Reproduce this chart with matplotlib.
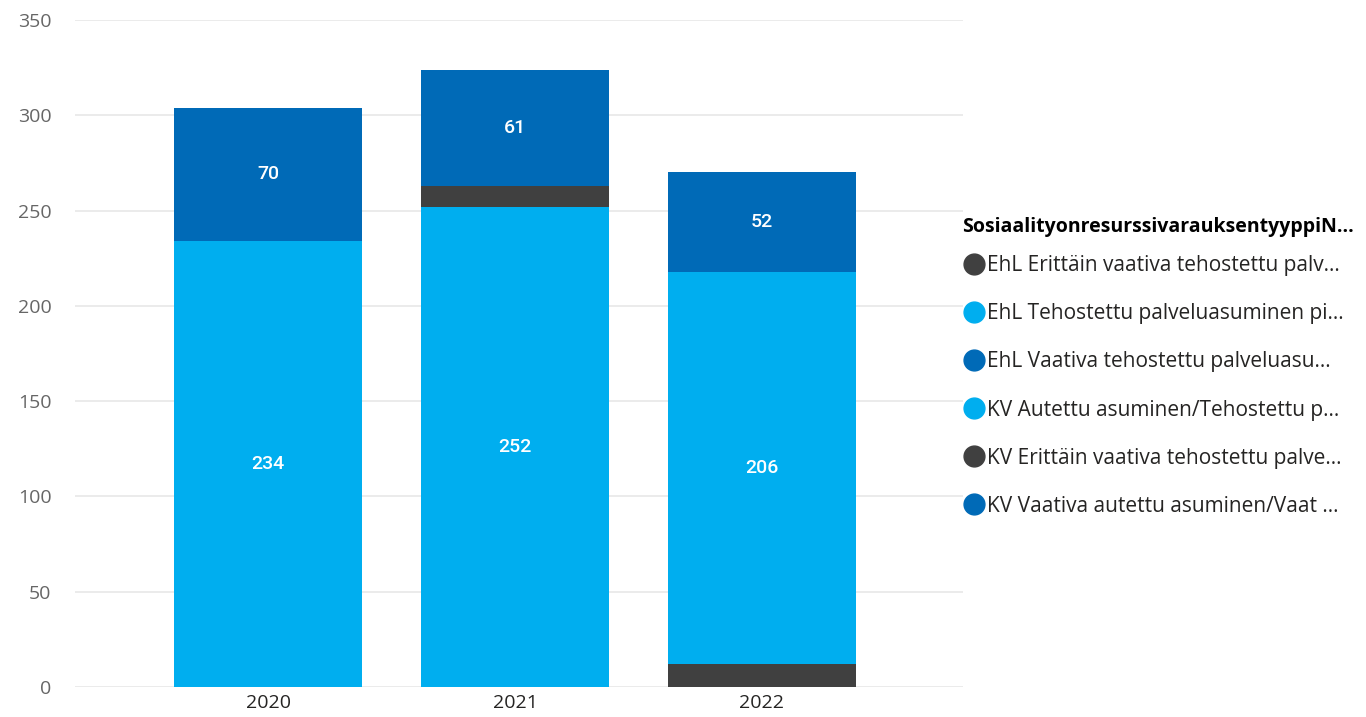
import matplotlib.pyplot as plt
from matplotlib.lines import Line2D
import numpy as np

years = ['2020', '2021', '2022']

# series in stacking order (bottom -> top), values per year
kv_erittain = [0, 0, 12]
ehl_tehostettu = [234, 252, 0]
kv_autettu = [0, 0, 206]
ehl_erittain = [0, 11, 0]
ehl_vaativa = [70, 61, 0]
kv_vaativa = [0, 0, 52]

legend_title = 'SosiaalityonresurssivarauksentyyppiN...'
legend_labels = [
    'EhL Erittäin vaativa tehostettu palv...',
    'EhL Tehostettu palveluasuminen pi...',
    'EhL Vaativa tehostettu palveluasu...',
    'KV Autettu asuminen/Tehostettu p...',
    'KV Erittäin vaativa tehostettu palve...',
    'KV Vaativa autettu asuminen/Vaat ...',
]

GREY = '#404040'
LIGHT = '#00AEEF'
DARK = '#006AB7'
legend_colors = [GREY, LIGHT, DARK, LIGHT, GREY, DARK]

plt.rcParams['font.family'] = ['Open Sans', 'DejaVu Sans']

fig = plt.figure(figsize=(13.66, 7.17), dpi=100)
ax = fig.add_axes([0.055, 0.042, 0.65, 0.930])

x = np.arange(len(years))
width = 0.76
stack = [
    (kv_erittain, GREY, False),
    (ehl_tehostettu, LIGHT, True),
    (kv_autettu, LIGHT, True),
    (ehl_erittain, GREY, False),
    (ehl_vaativa, DARK, True),
    (kv_vaativa, DARK, True),
]
bottom = np.zeros(len(years))
for vals, color, show in stack:
    vals = np.array(vals, dtype=float)
    ax.bar(x, vals, width=width, bottom=bottom, color=color, zorder=2)
    if show:
        for xi, v, b in zip(x, vals, bottom):
            if v > 0:
                ax.text(xi, b + v / 2, f'{int(v)}', color='white', ha='center',
                        va='center', fontsize=14, fontweight='medium',
                        family=['Roboto', 'DejaVu Sans'])
    bottom += vals

ax.set_ylim(0, 350)
ax.set_xlim(-0.781, 2.814)
ax.set_yticks(range(0, 351, 50))
ax.set_xticks(x)
ax.set_xticklabels(years)
ax.grid(axis='y', color='#E8E8E8', linewidth=1.2, zorder=0)
for s in ax.spines.values():
    s.set_visible(False)
ax.tick_params(axis='y', length=0, labelsize=14, labelcolor='#666666', pad=17)
ax.tick_params(axis='x', length=0, labelsize=14, labelcolor='#252423', pad=5)

handles = [Line2D([], [], marker='o', linestyle='none', markersize=15,
                  markerfacecolor=c, markeredgecolor=c) for c in legend_colors]
leg = fig.legend(handles, legend_labels, title=legend_title, loc='upper left',
                 bbox_to_anchor=(0.704, 0.697), frameon=False, fontsize=15,
                 title_fontproperties={'size': 14, 'weight': 'bold'},
                 handletextpad=0.0, labelspacing=1.30, handlelength=1.2,
                 borderaxespad=0, borderpad=0)
leg._legend_box.align = 'left'
leg._legend_box.sep = 13
for t in leg.get_texts():
    t.set_color('#252423')

fig.savefig('out.png', dpi=100)
